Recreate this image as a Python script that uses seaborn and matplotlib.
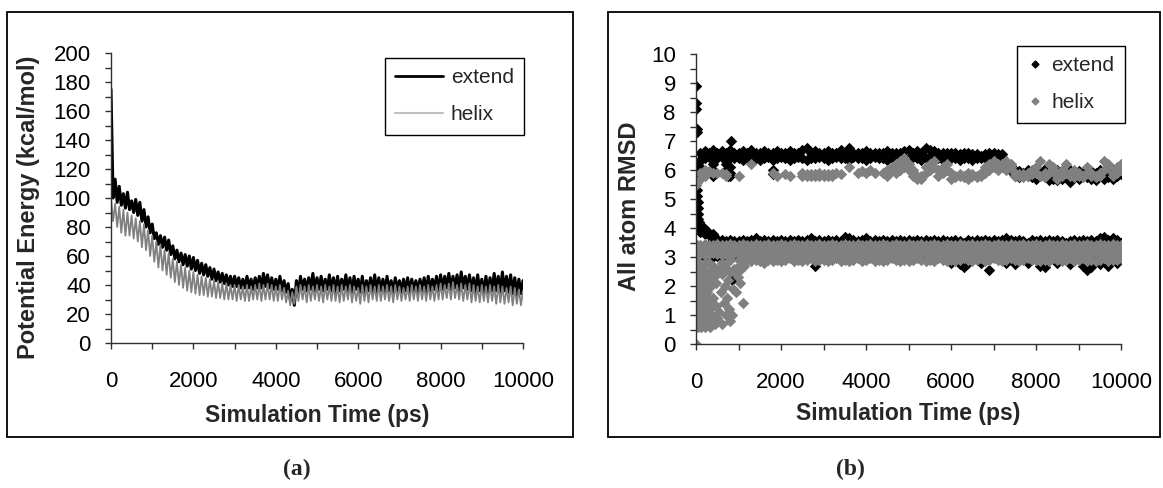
import numpy as np
import matplotlib
matplotlib.use("Agg")
import matplotlib.pyplot as plt
import seaborn as sns
from matplotlib.lines import Line2D
from matplotlib.patches import Rectangle
from matplotlib.ticker import MultipleLocator

N = None

# ---------------- panel (a): potential energy ----------------
time_a = list(range(0, 10001, 50))
pe_extend = [
    175, 100, 113, 97, 108, 95, 103, 93, 104, 92,
    98, 90, 99, 88, 97, 84, 92, 80, 87, 76,
    82, 72, 76, 68, 74, 66, 73, 64, 71, 61,
    67, 58, 64, 56, 62, 54, 61, 53, 60, 51,
    59, 50, 57, 48, 55, 47, 54, 46, 52, 44,
    51, 43, 49, 42, 48, 41, 47, 40, 46, 39,
    46, 39, 45, 38, 44, 38, 46, 38, 44, 37,
    45, 38, 46, 38, 48, 39, 47, 38, 45, 37,
    44, 37, 46, 36, 43, 35, 41, 30, 37, 26,
    43, 35, 46, 37, 44, 36, 45, 37, 48, 36,
    45, 37, 46, 36, 44, 37, 47, 36, 45, 35,
    46, 36, 44, 37, 47, 36, 45, 35, 46, 37,
    44, 35, 46, 34, 43, 36, 45, 35, 47, 35,
    45, 36, 44, 35, 46, 36, 43, 35, 45, 36,
    43, 35, 44, 36, 45, 35, 44, 36, 43, 35,
    44, 36, 45, 35, 46, 36, 44, 37, 46, 36,
    47, 37, 46, 38, 48, 37, 46, 38, 47, 36,
    49, 38, 46, 37, 47, 36, 45, 35, 47, 36,
    44, 34, 46, 35, 45, 36, 48, 36, 46, 35,
    49, 36, 46, 35, 47, 34, 45, 33, 44, 34,
    43,
]
pe_helix = [
    100, 84, 96, 80, 94, 76, 92, 74, 90, 74,
    88, 72, 86, 70, 84, 66, 82, 64, 78, 60,
    74, 56, 70, 52, 68, 50, 64, 47, 62, 45,
    58, 42, 56, 40, 54, 38, 52, 36, 50, 35,
    49, 34, 47, 33, 46, 33, 45, 32, 44, 32,
    43, 31, 42, 31, 41, 30, 41, 30, 40, 30,
    40, 29, 40, 30, 39, 29, 40, 29, 39, 30,
    40, 30, 41, 29, 40, 30, 41, 30, 40, 29,
    39, 29, 40, 30, 38, 28, 36, 26, 35, 27,
    39, 29, 40, 30, 39, 28, 40, 29, 39, 30,
    40, 29, 39, 28, 40, 30, 39, 29, 40, 29,
    39, 28, 40, 29, 39, 30, 40, 28, 39, 29,
    38, 27, 40, 29, 39, 28, 40, 30, 39, 29,
    40, 29, 39, 30, 40, 29, 39, 28, 40, 30,
    39, 29, 38, 30, 39, 29, 40, 30, 39, 29,
    40, 30, 39, 29, 40, 30, 39, 29, 40, 30,
    41, 30, 40, 31, 41, 30, 42, 31, 40, 30,
    41, 29, 40, 30, 41, 28, 40, 29, 39, 28,
    40, 29, 39, 28, 40, 29, 39, 27, 40, 28,
    39, 27, 38, 28, 39, 26, 38, 27, 37, 26,
    36,
]

# ---------------- panel (b): all atom RMSD ----------------
time_b = list(range(0, 10001, 100))
ext_hi1 = [
    N, 6.6, 6.65, 6.6, 6.7, 6.6, 6.65, 6.6, 6.7, 6.6,
    6.6, 6.65, 6.6, 6.7, 6.6, 6.6, 6.65, 6.6, 6.6, 6.65,
    6.6, 6.6, 6.65, 6.6, 6.6, 6.7, 6.75, 6.6, 6.65, 6.6,
    6.6, 6.65, 6.6, 6.6, 6.7, 6.6, 6.75, 6.6, 6.6, 6.6,
    6.65, 6.6, 6.6, 6.6, 6.6, 6.65, 6.6, 6.6, 6.6, 6.65,
    6.7, 6.6, 6.65, 6.6, 6.75, 6.7, 6.65, 6.6, 6.6, 6.6,
    6.6, 6.6, 6.55, 6.6, 6.6, 6.55, 6.55, 6.5, 6.55, 6.6,
    6.6, 6.55, 6.55, N, N, 6.0, 5.95, 5.9, 6.0, 5.95,
    6.0, 5.9, 6.05, 5.95, 6.0, 6.0, 5.95, 5.9, 6.0, 5.9,
    5.95, 5.9, 6.0, 5.95, 5.9, 6.0, 5.95, 5.9, 6.0, 5.95,
    5.95,
]
ext_hi2 = [
    N, 6.35, 6.4, 6.45, 6.35, 6.4, 6.45, 6.35, 6.4, 6.4,
    6.4, 6.35, 6.45, 6.4, 6.4, 6.35, 6.4, 6.45, 6.35, 6.4,
    6.45, 6.4, 6.35, 6.4, 6.45, 6.4, 6.35, 6.4, 6.4, 6.45,
    6.4, 6.35, 6.4, 6.45, 6.4, 6.4, 6.35, 6.45, 6.4, 6.4,
    6.35, 6.4, 6.45, 6.4, 6.4, 6.35, 6.4, 6.4, 6.45, 6.4,
    6.4, 6.45, 6.4, 6.35, 6.4, 6.45, 6.4, 6.4, 6.35, 6.4,
    6.4, 6.4, 6.35, 6.4, 6.4, 6.35, 6.4, 6.4, 6.4, 6.45,
    6.4, 6.4, 6.45, N, 5.95, 5.8, 5.75, 5.85, 5.8, 5.75,
    5.7, 5.8, 5.75, 5.65, 5.7, 5.65, 5.7, 5.75, 5.6, 5.8,
    5.7, 5.8, 5.75, 5.7, 5.65, 5.8, 5.7, 5.75, 5.7, 5.8,
    5.85,
]
ext_lo1 = [
    N, 3.85, 3.8, 3.75, 3.6, 3.55, 3.6, 3.55, 3.6, 3.55,
    3.55, 3.6, 3.55, 3.6, 3.65, 3.55, 3.6, 3.55, 3.6, 3.55,
    3.6, 3.55, 3.6, 3.55, 3.6, 3.55, 3.6, 3.65, 3.55, 3.6,
    3.55, 3.6, 3.55, 3.6, 3.55, 3.7, 3.65, 3.6, 3.55, 3.6,
    3.65, 3.55, 3.6, 3.55, 3.6, 3.55, 3.6, 3.55, 3.6, 3.55,
    3.6, 3.55, 3.6, 3.55, 3.6, 3.55, 3.6, 3.55, 3.6, 3.55,
    3.55, 3.6, 3.55, 3.5, 3.6, 3.55, 3.6, 3.55, 3.6, 3.55,
    3.6, 3.55, 3.6, 3.65, 3.6, 3.55, 3.6, 3.55, 3.5, 3.6,
    3.55, 3.6, 3.55, 3.6, 3.55, 3.6, 3.55, 3.5, 3.55, 3.6,
    3.55, 3.6, 3.55, 3.6, 3.55, 3.65, 3.7, 3.6, 3.65, 3.6,
    3.5,
]
ext_lo2 = [
    N, 3.05, 3.0, 3.05, 3.0, 3.05, 3.0, 3.05, 3.0, 3.05,
    3.0, 3.05, 3.0, 3.05, 3.0, 3.05, 3.0, 3.05, 3.0, 3.05,
    3.0, 3.05, 3.0, 3.05, 3.0, 3.05, 3.0, 3.05, 2.7, 3.0,
    3.05, 3.0, 3.05, 3.0, 3.05, 3.0, 3.05, 3.0, 3.05, 3.0,
    3.0, 3.05, 3.0, 3.05, 3.0, 3.05, 3.0, 3.05, 3.0, 3.05,
    3.0, 3.05, 3.0, 3.05, 3.0, 3.05, 3.0, 3.05, 3.0, 3.05,
    2.8, 3.0, 2.75, 2.65, 2.8, 3.0, 3.05, 2.8, 3.0, 2.55,
    3.0, 3.05, 3.0, 2.8, 3.0, 2.75, 3.05, 3.0, 2.8, 3.0,
    3.05, 2.7, 2.65, 3.0, 3.05, 2.8, 3.0, 3.05, 2.75, 3.0,
    3.05, 2.7, 2.55, 2.65, 3.0, 2.75, 3.0, 2.7, 3.05, 2.8,
    3.0,
]
ext_extra_t = [0, 5, 10, 15, 20, 20, 25, 30, 30, 35, 40, 45, 50, 55, 60, 70, 80, 90, 100, 120,
               150, 180, 200, 250, 300, 350, 400, 450, 60, 90, 850,
               400, 400, 400, 700, 700, 750, 750, 800, 800, 800, 1800, 1800, 820, 100, 100]
ext_extra_v = [8.9, 8.3, 8.1, 7.4, 7.3, 6.2, 5.9, 5.6, 5.3, 5.1, 4.9, 4.7, 4.5, 4.3, 4.2, 4.1, 4.0, 3.9, 4.0, 3.95,
               3.9, 4.0, 3.85, 3.9, 3.8, 3.75, 3.8, 3.7, 2.1, 2.3, 2.2,
               6.2, 6.0, 5.8, 6.2, 6.0, 5.9, 5.8, 6.1, 5.9, 5.8, 6.0, 5.85, 7.0, 6.3, 6.1]

hel_hi1 = [
    5.6, 5.9, 6.0, 5.95, 5.9, N, 5.9, 5.8, N, N,
    5.8, N, N, 6.2, N, N, N, N, 5.9, N,
    N, 5.85, 5.8, N, N, 5.8, 5.85, 5.8, 5.85, 5.8,
    5.85, 5.8, 5.85, 5.9, 5.85, N, 6.1, N, 5.9, 5.95,
    5.9, 6.0, 5.9, N, N, 6.0, 6.1, 6.2, 6.3, 6.4,
    6.2, 6.0, 5.8, 5.7, 6.1, 6.2, 6.3, 6.0, 6.1, 6.2,
    5.9, 5.8, 5.85, 5.8, 5.9, 5.85, 5.8, 5.9, 6.1, 6.2,
    6.3, 6.2, 6.1, 6.3, 6.2, 5.9, 5.8, 5.85, 5.9, 6.0,
    6.1, 6.3, 5.9, 6.2, 6.1, 5.8, 6.0, 6.2, 5.9, 6.0,
    5.9, 5.8, 6.1, 5.9, 5.8, 5.9, 6.3, 6.2, 5.9, 6.1,
    6.2,
]
hel_hi2 = [
    5.5, 5.7, 5.8, N, N, 5.9, N, 5.85, N, N,
    N, N, N, N, N, N, N, N, N, 5.8,
    N, N, N, N, N, 5.9, 5.8, 5.85, 5.8, 5.9,
    5.8, 5.85, 5.8, N, N, N, N, N, N, N,
    N, N, N, N, 5.9, 5.8, 6.0, 5.9, 6.0, 6.1,
    6.0, 5.8, 5.7, 5.8, 5.9, 6.0, 6.1, 5.8, 5.9, 6.0,
    5.7, 5.75, 5.8, 5.75, 5.7, 5.8, 5.75, 5.8, 5.9, 6.0,
    6.1, 6.0, 6.2, 6.0, 6.1, 5.8, 5.85, 5.75, 5.8, 5.85,
    5.9, 5.8, 5.75, 5.9, 6.0, 5.7, 5.8, 5.9, 5.8, 5.75,
    5.8, 5.75, 5.9, 5.8, 5.75, 5.8, 6.0, 6.1, 5.8, 5.9,
    6.0,
]
hel_lo_a = [
    3.45, 3.4, 3.45, 3.42, 3.4, 3.45, 3.42, 3.4, 3.45, 3.42,
    3.4, 3.45, 3.42, 3.4, 3.45, 3.42, 3.4, 3.45, 3.42, 3.4,
    3.45, 3.42, 3.4, 3.45, 3.42, 3.4, 3.45, 3.42, 3.4, 3.45,
    3.42, 3.4, 3.45, 3.42, 3.4, 3.45, 3.42, 3.4, 3.45, 3.42,
    3.4, 3.45, 3.42, 3.4, 3.45, 3.42, 3.4, 3.45, 3.42, 3.4,
    3.45, 3.42, 3.4, 3.45, 3.42, 3.4, 3.45, 3.42, 3.4, 3.45,
    3.42, 3.4, 3.45, 3.42, 3.4, 3.45, 3.42, 3.4, 3.45, 3.42,
    3.4, 3.45, 3.42, 3.4, 3.45, 3.42, 3.4, 3.45, 3.42, 3.4,
    3.45, 3.42, 3.4, 3.45, 3.42, 3.4, 3.45, 3.42, 3.4, 3.45,
    3.42, 3.4, 3.45, 3.42, 3.4, 3.45, 3.42, 3.4, 3.45, 3.42,
    3.4,
]
hel_lo_b = [
    3.28, 3.25, 3.3, 3.26, 3.24, 3.28, 3.3, 3.25, 3.27, 3.3,
    3.25, 3.28, 3.3, 3.24, 3.27, 3.3, 3.25, 3.28, 3.26, 3.3,
    3.25, 3.28, 3.3, 3.26, 3.24, 3.28, 3.3, 3.25, 3.27, 3.3,
    3.28, 3.25, 3.3, 3.26, 3.24, 3.28, 3.3, 3.25, 3.27, 3.3,
    3.25, 3.28, 3.3, 3.24, 3.27, 3.3, 3.25, 3.28, 3.26, 3.3,
    3.28, 3.25, 3.3, 3.26, 3.24, 3.28, 3.3, 3.25, 3.27, 3.3,
    3.25, 3.28, 3.3, 3.24, 3.27, 3.3, 3.25, 3.28, 3.26, 3.3,
    3.28, 3.25, 3.3, 3.26, 3.24, 3.28, 3.3, 3.25, 3.27, 3.3,
    3.25, 3.28, 3.3, 3.24, 3.27, 3.3, 3.25, 3.28, 3.26, 3.3,
    3.28, 3.25, 3.3, 3.26, 3.24, 3.28, 3.3, 3.25, 3.27, 3.3,
    3.28,
]
hel_lo_c = [
    3.1, 3.12, 3.08, 3.1, 3.14, 3.1, 3.08, 3.12, 3.1, 3.14,
    3.1, 3.12, 3.08, 3.1, 3.14, 3.1, 3.08, 3.12, 3.1, 3.14,
    3.12, 3.1, 3.14, 3.08, 3.1, 3.12, 3.1, 3.14, 3.08, 3.1,
    3.1, 3.12, 3.08, 3.1, 3.14, 3.1, 3.08, 3.12, 3.1, 3.14,
    3.12, 3.1, 3.14, 3.08, 3.1, 3.12, 3.1, 3.14, 3.08, 3.1,
    3.1, 3.12, 3.08, 3.1, 3.14, 3.1, 3.08, 3.12, 3.1, 3.14,
    3.12, 3.1, 3.14, 3.08, 3.1, 3.12, 3.1, 3.14, 3.08, 3.1,
    3.1, 3.12, 3.08, 3.1, 3.14, 3.1, 3.08, 3.12, 3.1, 3.14,
    3.12, 3.1, 3.14, 3.08, 3.1, 3.12, 3.1, 3.14, 3.08, 3.1,
    3.1, 3.12, 3.08, 3.1, 3.14, 3.1, 3.08, 3.12, 3.1, 3.14,
    3.12,
]
hel_lo_d = [
    2.9, 2.6, 2.8, 2.5, 2.7, 2.4, 2.8, 2.6, 2.9, 2.5,
    2.7, 2.8, 2.9, 2.85, 2.9, 2.85, 2.8, 2.9, 2.85, 2.9,
    2.85, 2.9, 2.95, 2.85, 2.9, 2.85, 2.9, 2.95, 2.85, 2.9,
    2.9, 2.85, 2.9, 2.95, 2.85, 2.9, 2.85, 2.9, 2.95, 2.85,
    2.9, 2.95, 2.85, 2.9, 2.85, 2.9, 2.95, 2.9, 2.85, 2.9,
    2.85, 2.9, 2.95, 2.9, 2.85, 2.9, 2.85, 2.95, 2.9, 2.85,
    2.9, 2.85, 2.9, 2.95, 2.9, 2.85, 2.9, 2.95, 2.85, 2.9,
    2.95, 2.9, 2.85, 2.9, 2.95, 2.9, 2.85, 2.9, 2.95, 2.9,
    2.9, 2.85, 2.9, 2.85, 2.95, 2.9, 2.85, 2.9, 2.95, 2.85,
    2.9, 2.95, 2.85, 2.9, 2.85, 2.9, 2.95, 2.85, 2.9, 2.9,
    2.95,
]
hel_cloud_t = [0, 10, 10, 20, 20, 30, 30, 40, 50, 50, 60, 70, 80, 80, 100, 100, 120, 140, 140, 160,
               180, 180, 200, 200, 220, 240, 250, 260, 280, 300, 300, 320, 340, 350, 380, 400, 420, 440, 460, 480,
               500, 520, 550, 580, 600, 620, 650, 680, 700, 720, 740, 760, 780, 800, 810, 840, 860, 900, 940, 980,
               1000, 1030, 1060, 1100, 1120,
               15, 25, 35, 45, 55, 65, 75, 85, 95, 110, 130, 150, 170, 190, 210, 230, 270, 290, 310, 330,
               360, 390, 25, 45, 65, 85, 105, 125, 145, 165]
hel_cloud_v = [0.0, 1.0, 2.2, 0.7, 1.6, 2.6, 1.2, 0.9, 2.0, 0.6, 1.4, 2.4, 0.8, 1.8, 1.1, 2.7, 0.6, 1.5, 2.2, 0.9,
               1.9, 0.7, 1.3, 2.5, 0.6, 1.7, 1.0, 2.3, 0.8, 1.5, 2.8, 0.6, 1.2, 2.0, 0.9, 1.6, 2.5, 0.7, 1.3, 2.1,
               0.9, 2.6, 1.1, 1.8, 0.7, 2.4, 1.4, 2.0, 1.0, 2.8, 1.6, 2.2, 1.2, 0.8, 2.5, 1.0, 1.9, 2.6, 1.8, 2.3,
               2.9, 2.1, 2.6, 1.4, 2.7,
               1.9, 0.8, 1.5, 2.4, 1.1, 1.7, 0.7, 2.2, 1.3, 1.9, 0.9, 2.4, 1.2, 1.6, 2.0, 1.1, 1.8, 0.8, 2.2, 1.4,
               1.0, 2.3, 1.3, 1.2, 2.1, 1.5, 0.7, 2.0, 1.0, 2.6]

series_labels = ["extend", "helix"]

# ---------------- drawing ----------------
sns.set_style("ticks")
plt.rcParams['font.family'] = ['Liberation Sans', 'DejaVu Sans']

W, H = 1163, 488
fig = plt.figure(figsize=(W / 100, H / 100), dpi=100)
axa = fig.add_axes([111 / W, 1 - 343 / H, 412 / W, 290 / H])
axb = fig.add_axes([696 / W, 1 - 344 / H, 425 / W, 290 / H])

BLACK = "#000000"
GRAY = "#808080"

sns.lineplot(x=time_a, y=pe_extend, ax=axa, color=BLACK, lw=2.2,
             estimator=None, sort=False, legend=False)
sns.lineplot(x=time_a, y=pe_helix, ax=axa, color=GRAY, lw=1.3,
             estimator=None, sort=False, legend=False)


def arr(v):
    return np.array(v, dtype=float)


mk = dict(marker="D", s=34, linewidth=0, legend=False)
for yv in (ext_hi1, ext_hi2, ext_lo1, ext_lo2):
    sns.scatterplot(x=time_b, y=arr(yv), ax=axb, color=BLACK, **mk)
sns.scatterplot(x=ext_extra_t, y=ext_extra_v, ax=axb, color=BLACK, **mk)
for yv in (hel_hi1, hel_hi2, hel_lo_a, hel_lo_b, hel_lo_c, hel_lo_d):
    sns.scatterplot(x=time_b, y=arr(yv), ax=axb, color=GRAY, **mk)
sns.scatterplot(x=hel_cloud_t, y=hel_cloud_v, ax=axb, color=GRAY, **mk)

SPINE = "#303030"
for ax, ymax, ymaj, ymin in ((axa, 200, 20, 10), (axb, 10, 1, 0.5)):
    ax.set_xlim(0, 10000)
    ax.set_ylim(0, ymax)
    ax.xaxis.set_major_locator(MultipleLocator(2000))
    ax.xaxis.set_minor_locator(MultipleLocator(1000))
    ax.yaxis.set_major_locator(MultipleLocator(ymaj))
    ax.yaxis.set_minor_locator(MultipleLocator(ymin))
    sns.despine(ax=ax)
    for sp in ("left", "bottom"):
        ax.spines[sp].set_color(SPINE)
        ax.spines[sp].set_linewidth(1.0)
    ax.tick_params(which="both", direction="out", length=4.5, width=1.0,
                   color=SPINE, labelcolor="black", labelsize=16)
    ax.tick_params(axis="x", which="major", pad=16)
    ax.tick_params(axis="y", which="major", pad=10)
    ax.set_xlabel("Simulation Time (ps)", fontsize=16.5, fontweight="bold", va="top")

axa.set_ylabel("Potential Energy (kcal/mol)", fontsize=17, fontweight="bold")
axb.set_ylabel("All atom RMSD", fontsize=17, fontweight="bold")
axa.xaxis.set_label_coords(0.5, -0.21)
axb.xaxis.set_label_coords(0.5, -0.20)
axa.yaxis.set_label_coords(-0.172, 0.469)
axb.yaxis.set_label_coords(-0.13, 0.476)

# legends
ha = [Line2D([], [], color=BLACK, lw=2.0), Line2D([], [], color="#c0c0c0", lw=1.5)]
la = axa.legend(ha, series_labels, loc="upper left", bbox_to_anchor=(385 / W, 1 - 58 / H),
                bbox_transform=fig.transFigure, fancybox=False, edgecolor="black",
                fontsize=15, handlelength=2.3, handletextpad=0.35, labelspacing=0.85,
                borderpad=0.5, borderaxespad=0, framealpha=1)
la.get_frame().set_linewidth(1.0)

hb = [Line2D([], [], color=BLACK, marker="D", ls="", markersize=3.5),
      Line2D([], [], color=GRAY, marker="D", ls="", markersize=3.5)]
lb = axb.legend(hb, series_labels, loc="upper left", bbox_to_anchor=(1017 / W, 1 - 46 / H),
                bbox_transform=fig.transFigure, fancybox=False, edgecolor="black",
                fontsize=15, handlelength=0.7, handletextpad=0.45, labelspacing=0.85,
                borderpad=0.5, borderaxespad=0, framealpha=1)
lb.get_frame().set_linewidth(1.0)

# panel frames
fig.add_artist(Rectangle((7 / W, 1 - 437 / H), 566 / W, 425 / H, transform=fig.transFigure,
                         fill=False, ec="black", lw=1.3))
fig.add_artist(Rectangle((608 / W, 1 - 437 / H), 552 / W, 425 / H, transform=fig.transFigure,
                         fill=False, ec="black", lw=1.3))

fig.text(297 / W, 1 - 469 / H, "(a)", ha="center", va="center", fontsize=17,
         fontweight="bold", family=["Liberation Serif", "DejaVu Serif"])
fig.text(850 / W, 1 - 469 / H, "(b)", ha="center", va="center", fontsize=17,
         fontweight="bold", family=["Liberation Serif", "DejaVu Serif"])

fig.savefig("out.png", dpi=100)
